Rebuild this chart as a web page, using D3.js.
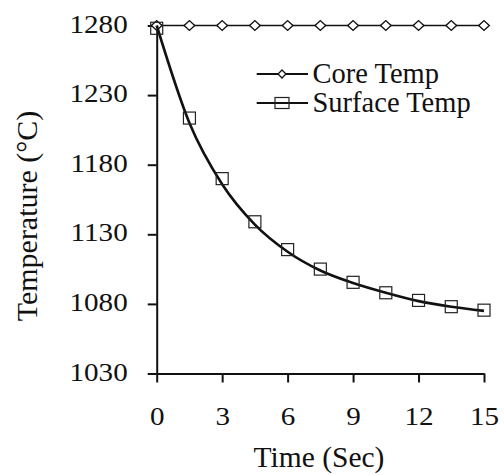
<!DOCTYPE html>
<html>
<head>
<meta charset="utf-8">
<script src="https://cdn.jsdelivr.net/npm/d3@7"></script>
<style>
  body { margin: 0; background: #fff; }
  svg text { font-family: "Liberation Serif", "Times New Roman", serif !important; fill: #111; }
</style>
</head>
<body>
<script>
// chart size
var w = 504;
var h = 475;
var serif = "'Liberation Serif', 'Times New Roman', serif";

// data
const times = [0, 1.5, 3, 4.5, 6, 7.5, 9, 10.5, 12, 13.5, 15];
const coreTemp = [1280, 1280, 1280, 1280, 1280, 1280, 1280, 1280, 1280, 1280, 1280];
const surfaceTemp = [1278, 1213.5, 1170, 1139, 1119, 1105, 1095.5, 1088, 1082.5, 1078, 1075.5];
// the thick smooth curve drawn through the surface series
const surfaceCurve = [1280, 1210, 1166, 1137, 1117.5, 1104, 1095, 1088, 1082, 1078, 1075];
const xTicks = [0, 3, 6, 9, 12, 15];
const yTicks = [1030, 1080, 1130, 1180, 1230, 1280];
const seriesNames = ["Core Temp", "Surface Temp"];

var svg = d3.select("body")
            .append("svg")
            .attr("width", w)
            .attr("height", h)
            .attr("font-family", serif);

var x = d3.scaleLinear().domain([0, 15]).range([156.7, 484]);
var y = d3.scaleLinear().domain([1030, 1280]).range([373.5, 25.5]);

// x axis
var xAxis = svg.append("g")
  .attr("transform", "translate(0," + y(1030) + ")")
  .call(d3.axisBottom(x).tickValues(xTicks).tickFormat(d3.format("d"))
          .tickSize(9).tickSizeOuter(0));
xAxis.attr("font-family", serif);
xAxis.select(".domain").attr("stroke", "#111").attr("stroke-width", 2);
xAxis.selectAll(".tick line").attr("stroke", "#111").attr("stroke-width", 2);
xAxis.selectAll(".tick text")
  .attr("x", null).attr("y", null).attr("dy", null)
  .attr("transform", "translate(0,51.5) scale(1.12,1)")
  .attr("font-size", 26);

// y axis
var yAxis = svg.append("g")
  .attr("transform", "translate(" + x(0) + ",0)")
  .call(d3.axisLeft(y).tickValues(yTicks).tickFormat(d3.format("d"))
          .tickSize(9).tickSizeOuter(0));
yAxis.attr("font-family", serif);
yAxis.select(".domain").attr("stroke", "#111").attr("stroke-width", 2);
yAxis.selectAll(".tick line").attr("stroke", "#111").attr("stroke-width", 2);
yAxis.selectAll(".tick text")
  .attr("x", null).attr("dy", null)
  .attr("transform", "translate(-29,6.5) scale(1.12,1)")
  .attr("font-size", 26);

// axis titles
svg.append("text")
  .attr("transform", "translate(319,467)")
  .attr("text-anchor", "middle")
  .attr("font-size", 29.5)
  .text("Time (Sec)");

svg.append("text")
  .attr("transform", "translate(36.5,216) rotate(-90)")
  .attr("text-anchor", "middle")
  .attr("font-size", 30)
  .text("Temperature (°C)");

// core temp line + diamonds
var line = d3.line()
  .x(function(d, i) { return x(times[i]); })
  .y(function(d) { return y(d); });

svg.append("path")
  .datum(coreTemp)
  .attr("d", line)
  .attr("fill", "none")
  .attr("stroke", "#111")
  .attr("stroke-width", 1.4);

var diamond = d3.symbol().type(d3.symbolDiamond2).size(60);

svg.selectAll(".core")
  .data(coreTemp)
  .enter()
  .append("path")
  .attr("class", "core")
  .attr("transform", function(d, i) {
    return "translate(" + x(times[i]) + "," + y(d) + ") scale(1.1,1)";
  })
  .attr("d", diamond)
  .attr("fill", "#fff")
  .attr("stroke", "#111")
  .attr("stroke-width", 1.3);

// surface temp curve + squares
var curve = d3.line()
  .x(function(d, i) { return x(times[i]); })
  .y(function(d) { return y(d); })
  .curve(d3.curveMonotoneX);

svg.append("path")
  .datum(surfaceCurve)
  .attr("d", curve)
  .attr("fill", "none")
  .attr("stroke", "#111")
  .attr("stroke-width", 2.6);

svg.selectAll(".surf")
  .data(surfaceTemp)
  .enter()
  .append("rect")
  .attr("class", "surf")
  .attr("x", function(d, i) { return x(times[i]) - 6; })
  .attr("y", function(d) { return y(d) - 6; })
  .attr("width", 12)
  .attr("height", 12)
  .attr("fill", "none")
  .attr("stroke", "#222")
  .attr("stroke-width", 1.2);

// legend
var legend = svg.append("g");
var legendY = [74, 103];

seriesNames.forEach(function(name, i) {
  var ly = legendY[i];
  legend.append("line")
    .attr("x1", 256.7).attr("x2", 308)
    .attr("y1", ly).attr("y2", ly)
    .attr("stroke", "#111")
    .attr("stroke-width", 2);
  if (i == 0) {
    legend.append("path")
      .attr("transform", "translate(282," + ly + ")")
      .attr("d", d3.symbol().type(d3.symbolDiamond2).size(40))
      .attr("fill", "#fff")
      .attr("stroke", "#111")
      .attr("stroke-width", 1.3);
  } else {
    legend.append("rect")
      .attr("x", 275).attr("y", ly - 5.5)
      .attr("width", 14).attr("height", 11)
      .attr("fill", "none")
      .attr("stroke", "#222")
      .attr("stroke-width", 1.2);
  }
  legend.append("text")
    .attr("x", 312.5)
    .attr("y", ly + 8.5)
    .attr("font-size", 28.5)
    .text(name);
});
</script>
</body>
</html>
